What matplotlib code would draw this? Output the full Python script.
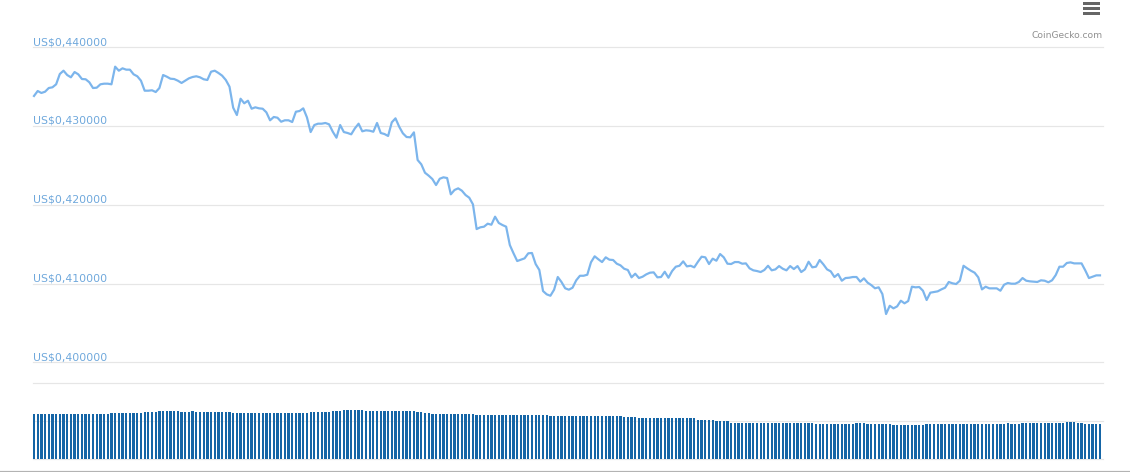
import numpy as np
import matplotlib
matplotlib.use("Agg")
import matplotlib.pyplot as plt
from matplotlib.lines import Line2D
from matplotlib.patches import Rectangle

# ---------------- data ----------------
prices = [
    0.43382, 0.43445, 0.43420, 0.43436, 0.43483, 0.43492, 0.43530, 0.43661, 0.43703, 0.43648,
    0.43619, 0.43686, 0.43657, 0.43597, 0.43594, 0.43556, 0.43483, 0.43487, 0.43530, 0.43538,
    0.43538, 0.43530, 0.43754, 0.43703, 0.43733, 0.43716, 0.43716, 0.43657, 0.43632, 0.43576,
    0.43449, 0.43449, 0.43454, 0.43432, 0.43483, 0.43648, 0.43627, 0.43601, 0.43597, 0.43576,
    0.43547, 0.43576, 0.43606, 0.43623, 0.43632, 0.43619, 0.43594, 0.43585, 0.43690, 0.43703,
    0.43674, 0.43640, 0.43585, 0.43500, 0.43233, 0.43140, 0.43347, 0.43289, 0.43322, 0.43220,
    0.43238, 0.43225, 0.43220, 0.43174, 0.43073, 0.43115, 0.43106, 0.43055, 0.43073, 0.43073,
    0.43051, 0.43182, 0.43191, 0.43225, 0.43110, 0.42924, 0.43013, 0.43030, 0.43030, 0.43039,
    0.43022, 0.42928, 0.42852, 0.43013, 0.42924, 0.42912, 0.42895, 0.42971, 0.43030, 0.42933,
    0.42946, 0.42941, 0.42928, 0.43039, 0.42912, 0.42899, 0.42874, 0.43047, 0.43098, 0.42992,
    0.42908, 0.42861, 0.42857, 0.42920, 0.42569, 0.42514, 0.42407, 0.42370, 0.42327, 0.42251,
    0.42331, 0.42349, 0.42340, 0.42133, 0.42188, 0.42209, 0.42179, 0.42124, 0.42090, 0.42006,
    0.41692, 0.41714, 0.41722, 0.41760, 0.41747, 0.41849, 0.41769, 0.41743, 0.41722, 0.41489,
    0.41384, 0.41286, 0.41303, 0.41320, 0.41384, 0.41388, 0.41248, 0.41172, 0.40905, 0.40863,
    0.40845, 0.40922, 0.41083, 0.41020, 0.40940, 0.40922, 0.40947, 0.41041, 0.41099, 0.41099,
    0.41112, 0.41270, 0.41346, 0.41308, 0.41273, 0.41333, 0.41303, 0.41299, 0.41252, 0.41231,
    0.41188, 0.41172, 0.41079, 0.41125, 0.41070, 0.41087, 0.41117, 0.41138, 0.41142, 0.41079,
    0.41083, 0.41150, 0.41074, 0.41159, 0.41214, 0.41226, 0.41282, 0.41218, 0.41226, 0.41206,
    0.41277, 0.41341, 0.41333, 0.41248, 0.41316, 0.41290, 0.41375, 0.41333, 0.41252, 0.41248,
    0.41273, 0.41273, 0.41252, 0.41256, 0.41193, 0.41168, 0.41159, 0.41146, 0.41172, 0.41226,
    0.41168, 0.41180, 0.41222, 0.41188, 0.41168, 0.41222, 0.41184, 0.41222, 0.41146, 0.41180,
    0.41277, 0.41206, 0.41214, 0.41299, 0.41244, 0.41180, 0.41155, 0.41083, 0.41121, 0.41036,
    0.41070, 0.41074, 0.41083, 0.41083, 0.41024, 0.41066, 0.41011, 0.40980, 0.40940, 0.40952,
    0.40867, 0.40613, 0.40718, 0.40685, 0.40710, 0.40782, 0.40749, 0.40778, 0.40960, 0.40952,
    0.40956, 0.40909, 0.40791, 0.40884, 0.40892, 0.40901, 0.40926, 0.40947, 0.41020, 0.41003,
    0.40994, 0.41036, 0.41226, 0.41193, 0.41163, 0.41138, 0.41079, 0.40926, 0.40960, 0.40939,
    0.40939, 0.40939, 0.40909, 0.40985, 0.41007, 0.40998, 0.40998, 0.41020, 0.41070, 0.41036,
    0.41028, 0.41024, 0.41020, 0.41041, 0.41036, 0.41016, 0.41041, 0.41108, 0.41214, 0.41214,
    0.41261, 0.41269, 0.41256, 0.41256, 0.41256, 0.41168, 0.41070, 0.41087, 0.41104, 0.41104,
]

# trading volume per bar (billions, arbitrary scale of the hidden volume axis)
volumes = [
    1.18, 1.18, 1.18, 1.18, 1.18, 1.18, 1.18, 1.18, 1.18, 1.18,
    1.18, 1.18, 1.18, 1.18, 1.18, 1.18, 1.18, 1.18, 1.18, 1.18,
    1.18, 1.21, 1.21, 1.21, 1.21, 1.21, 1.21, 1.21, 1.21, 1.21,
    1.24, 1.24, 1.24, 1.24, 1.26, 1.26, 1.26, 1.26, 1.26, 1.26,
    1.24, 1.24, 1.24, 1.26, 1.24, 1.24, 1.24, 1.24, 1.24, 1.24,
    1.24, 1.24, 1.24, 1.24, 1.21, 1.21, 1.21, 1.21, 1.21, 1.21,
    1.21, 1.21, 1.21, 1.21, 1.21, 1.21, 1.21, 1.21, 1.21, 1.21,
    1.21, 1.21, 1.21, 1.21, 1.21, 1.24, 1.24, 1.24, 1.24, 1.24,
    1.24, 1.26, 1.26, 1.26, 1.29, 1.29, 1.29, 1.29, 1.29, 1.29,
    1.26, 1.26, 1.26, 1.26, 1.26, 1.26, 1.26, 1.26, 1.26, 1.26,
    1.26, 1.26, 1.26, 1.26, 1.24, 1.24, 1.21, 1.21, 1.18, 1.18,
    1.18, 1.18, 1.18, 1.18, 1.18, 1.18, 1.18, 1.18, 1.18, 1.18,
    1.16, 1.16, 1.16, 1.16, 1.16, 1.16, 1.16, 1.16, 1.16, 1.16,
    1.16, 1.16, 1.16, 1.16, 1.16, 1.16, 1.16, 1.16, 1.16, 1.16,
    1.13, 1.13, 1.13, 1.13, 1.13, 1.13, 1.13, 1.13, 1.13, 1.13,
    1.13, 1.13, 1.13, 1.13, 1.13, 1.13, 1.13, 1.13, 1.13, 1.13,
    1.11, 1.11, 1.11, 1.11, 1.08, 1.08, 1.08, 1.08, 1.08, 1.08,
    1.08, 1.08, 1.08, 1.08, 1.08, 1.08, 1.08, 1.08, 1.08, 1.08,
    1.03, 1.03, 1.03, 1.03, 1.03, 1.00, 1.00, 1.00, 1.00, 0.95,
    0.95, 0.95, 0.95, 0.95, 0.95, 0.95, 0.95, 0.95, 0.95, 0.95,
    0.95, 0.95, 0.95, 0.95, 0.95, 0.95, 0.95, 0.95, 0.95, 0.95,
    0.95, 0.95, 0.92, 0.92, 0.92, 0.92, 0.92, 0.92, 0.92, 0.92,
    0.92, 0.92, 0.92, 0.95, 0.95, 0.95, 0.92, 0.92, 0.92, 0.92,
    0.92, 0.92, 0.92, 0.89, 0.89, 0.89, 0.89, 0.89, 0.89, 0.89,
    0.89, 0.89, 0.92, 0.92, 0.92, 0.92, 0.92, 0.92, 0.92, 0.92,
    0.92, 0.92, 0.92, 0.92, 0.92, 0.92, 0.92, 0.92, 0.92, 0.92,
    0.92, 0.92, 0.92, 0.92, 0.95, 0.92, 0.92, 0.92, 0.95, 0.95,
    0.95, 0.95, 0.95, 0.95, 0.95, 0.95, 0.95, 0.95, 0.95, 0.95,
    0.97, 0.97, 0.97, 0.95, 0.95, 0.92, 0.92, 0.92, 0.92, 0.92,
]

price_ticks = [0.40, 0.41, 0.42, 0.43, 0.44]
price_tick_labels = ["US$0,400000", "US$0,410000", "US$0,420000", "US$0,430000", "US$0,440000"]
volume_ticks = [0, 1, 2]

# ---------------- layout (pixels of a 1130x472 canvas) ----------------
W, H = 1130, 472
fig = plt.figure(figsize=(W / 100, H / 100), dpi=100)
fig.patch.set_facecolor("white")

n = len(prices)
x = np.arange(n)
px_first, px_last = 34.0, 1100.0
grid_left, grid_right = 33.0, 1103.0
pitch = (px_last - px_first) / (n - 1)
xlim = (-(px_first - grid_left) / pitch, (n - 1) + (grid_right - px_last) / pitch)

LINE_C = "#7cb5ec"
GRID_C = "#e6e6e6"
BAR_C = "#1565a6"
PX = 0.72  # one pixel in points

# price panel: 0.44 at y=47.3, 0.40 at y=362.3
p_top, p_bot = 47.3, 362.3
axp = fig.add_axes([grid_left / W, (H - p_bot) / H, (grid_right - grid_left) / W, (p_bot - p_top) / H])
axp.set_xlim(*xlim)
axp.set_ylim(price_ticks[0], price_ticks[-1])
axp.axis("off")
for t in price_ticks:
    axp.axhline(t, color=GRID_C, lw=1.2 * PX, zorder=0, clip_on=False)
axp.plot(x, prices, color=LINE_C, lw=2.2 * PX, solid_joinstyle="round", zorder=3, clip_on=False)
for t, lab in zip(price_ticks, price_tick_labels):
    axp.annotate(lab, xy=(xlim[0], t), xytext=(0, 1.6), textcoords="offset points",
                 ha="left", va="baseline", fontsize=7.8, color="#6fa8dc", family="DejaVu Sans")

# volume panel: gridlines at y=383, 421, 459
v_top, v_bot = 383.3, 459.3
axv = fig.add_axes([grid_left / W, (H - v_bot) / H, (grid_right - grid_left) / W, (v_bot - v_top) / H])
axv.set_xlim(*xlim)
axv.set_ylim(volume_ticks[0], volume_ticks[-1])
axv.axis("off")
for t in volume_ticks:
    axv.axhline(t, color=GRID_C, lw=1.2 * PX, zorder=0, clip_on=False)
axv.bar(x, volumes, width=0.62, color=BAR_C, linewidth=0, zorder=2)

# bottom axis line
fig.add_artist(Line2D([0, 1], [(H - 470.7) / H] * 2, color="#b3b3b3", lw=1.2 * PX))

# credits
fig.text(1103 / W, (H - 38) / H, "CoinGecko.com", ha="right", va="baseline",
         fontsize=6.6, color="#909090", family="DejaVu Sans")

# menu (hamburger) icon
for yy in (2.3, 7.3, 12.3):
    fig.add_artist(Rectangle((1083 / W, (H - yy - 2.6) / H), 17 / W, 2.6 / H,
                             facecolor="#666666", edgecolor="none", transform=fig.transFigure))

fig.savefig("out.png", dpi=100, facecolor="white")
